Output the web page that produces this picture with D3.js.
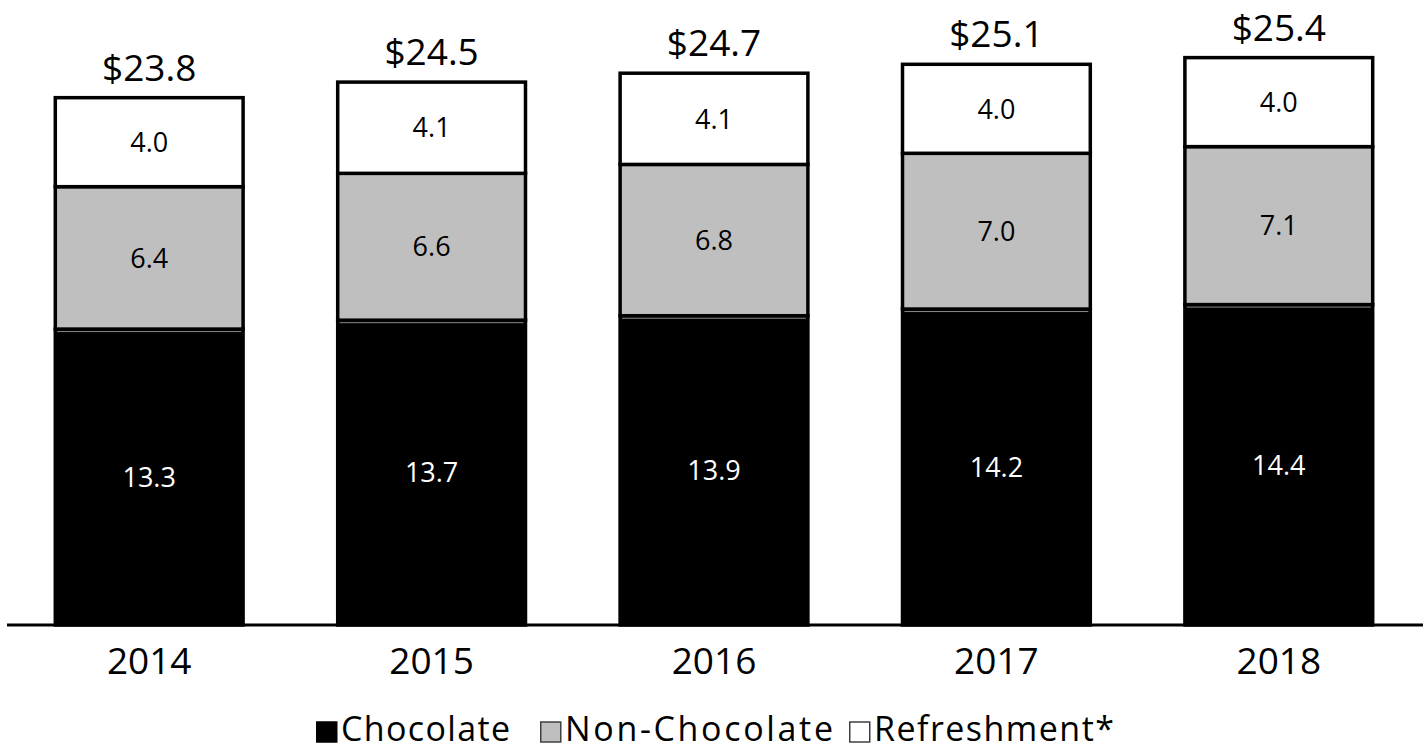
<!DOCTYPE html>
<html>
<head>
<meta charset="utf-8">
<script src="https://cdn.jsdelivr.net/npm/d3@7"></script>
<style>
  body { margin: 0; background: #fff; }
  text { font-family: "Open Sans", sans-serif; }
</style>
</head>
<body>
<script>
// chart values
const years = ["2014", "2015", "2016", "2017", "2018"];
const chocolate = [13.3, 13.7, 13.9, 14.2, 14.4];
const nonChocolate = [6.4, 6.6, 6.8, 7.0, 7.1];
const refreshment = [4.0, 4.1, 4.1, 4.0, 4.0];
const totals = [23.8, 24.5, 24.7, 25.1, 25.4];
const seriesNames = ["Chocolate", "Non-Chocolate", "Refreshment*"];
const seriesColors = ["#000000", "#bfbfbf", "#ffffff"];

const width = 1427, height = 751;
const baseY = 625;

const svg = d3.select("body").append("svg")
  .attr("width", width)
  .attr("height", height);

const x = d3.scaleBand()
  .domain(years)
  .range([8, 1420])
  .paddingInner(0.335)
  .paddingOuter(0.1675);

const y = d3.scaleLinear()
  .domain([0, 28])
  .range([baseY, 2]);

// build stack table
const rows = years.map((yr, i) => ({
  year: yr,
  "Chocolate": chocolate[i],
  "Non-Chocolate": nonChocolate[i],
  "Refreshment*": refreshment[i]
}));
const stacked = d3.stack().keys(seriesNames)(rows);

const groups = svg.selectAll("g.series")
  .data(stacked)
  .join("g")
  .attr("class", "series")
  .attr("fill", (d, i) => seriesColors[i]);

groups.selectAll("rect")
  .data(d => d)
  .join("rect")
  .attr("x", d => x(d.data.year))
  .attr("y", d => y(d[1]))
  .attr("width", x.bandwidth())
  .attr("height", d => y(d[0]) - y(d[1]))
  .attr("stroke", "#000")
  .attr("stroke-width", 3.5);

// faint seam at top of chocolate segments
svg.selectAll("line.seam")
  .data(stacked[0])
  .join("line")
  .attr("class", "seam")
  .attr("x1", d => x(d.data.year) + 2)
  .attr("x2", d => x(d.data.year) + x.bandwidth() - 2)
  .attr("y1", d => y(d[1]) + 2.5)
  .attr("y2", d => y(d[1]) + 2.5)
  .attr("stroke", "#8a8a8a")
  .attr("stroke-width", 1);

// segment labels
groups.each(function(s, si) {
  d3.select(this).selectAll("text")
    .data(s)
    .join("text")
    .attr("x", d => x(d.data.year) + x.bandwidth() / 2)
    .attr("y", d => (y(d[0]) + y(d[1])) / 2)
    .attr("dy", "0.36em")
    .attr("text-anchor", "middle")
    .attr("font-size", 27)
    .attr("fill", si === 0 ? "#fff" : "#000")
    .text(d => d3.format(".1f")(d[1] - d[0]));
});

// totals above bars
svg.selectAll("text.total")
  .data(stacked[2])
  .join("text")
  .attr("class", "total")
  .attr("x", d => x(d.data.year) + x.bandwidth() / 2)
  .attr("y", d => y(d[1]) - 17)
  .attr("text-anchor", "middle")
  .attr("font-size", 37)
  .attr("fill", "#000")
  .text((d, i) => "$" + d3.format(".1f")(totals[i]));

// baseline axis
const axis = svg.append("g")
  .attr("transform", `translate(0,${baseY})`)
  .call(d3.axisBottom(x).tickSize(0).tickPadding(23));
axis.select(".domain")
  .attr("d", "M7,0H1423")
  .attr("stroke", "#000")
  .attr("stroke-width", 3);
axis.selectAll(".tick text")
  .attr("font-size", 37)
  .attr("font-family", "'Open Sans', sans-serif")
  .attr("fill", "#000")
  .attr("dy", "0.71em");

// legend
const legendX = [316, 540, 849];
const legendTextW = [169, 268, 240];
const legend = svg.append("g").attr("transform", "translate(0,741)");
seriesNames.forEach((name, i) => {
  const item = legend.append("g").attr("transform", `translate(${legendX[i]},0)`);
  item.append("rect")
    .attr("x", 0.75)
    .attr("y", -19)
    .attr("width", 20)
    .attr("height", 20)
    .attr("fill", seriesColors[i])
    .attr("stroke", i === 0 ? "#000" : "#404040")
    .attr("stroke-width", 1.5);
  item.append("text")
    .attr("x", 25)
    .attr("font-size", 34)
    .attr("fill", "#000")
    .attr("textLength", legendTextW[i])
    .attr("lengthAdjust", "spacing")
    .text(name);
});
</script>
</body>
</html>
